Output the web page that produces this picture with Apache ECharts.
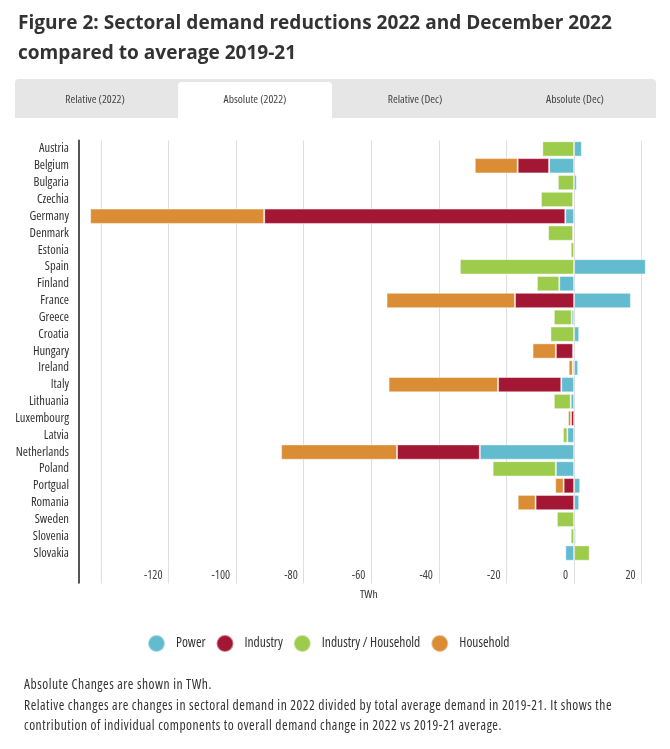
<!DOCTYPE html>
<html>
<head>
<meta charset="utf-8">
<script src="https://cdn.jsdelivr.net/npm/echarts@6/dist/echarts.min.js"></script>
<style>
  html, body { margin: 0; padding: 0; background: #fff; }
  body { width: 670px; height: 749px; position: relative; overflow: hidden; }
  #title { position: absolute; left: 18px; top: 7px; width: 650px; font-family: "Open Sans", sans-serif; font-weight: 700; font-size: 18px; line-height: 30px; color: #333; white-space: nowrap; }
  #tabs { position: absolute; left: 15px; top: 79px; width: 641px; height: 39px; background: #e6e6e6; border-radius: 4px 4px 0 0; }
  .tab { position: absolute; top: 0; height: 39px; width: 160px; text-align: center; line-height: 39px; font-family: "Open Sans", sans-serif; font-stretch: condensed; font-size: 11.5px; color: #444; }
  .tab.active { background: #fff; top: 3px; height: 36px; line-height: 34px; border-radius: 4px 4px 0 0; width: 154px; }
  #footer { position: absolute; left: 24px; top: 674px; font-family: "Open Sans", sans-serif; font-stretch: condensed; font-size: 13.5px; letter-spacing: 0.5px; line-height: 20.5px; color: #333; white-space: nowrap; }
  #chart { position: absolute; left: 0; top: 0; width: 670px; height: 749px; }
</style>
</head>
<body>
<div id="chart"></div>
<div id="title"><span id="t1">Figure 2: Sectoral demand reductions 2022 and December 2022</span><br>compared to average 2019-21</div>
<div id="tabs">
  <div class="tab" style="left:0px;">Relative (2022)</div>
  <div class="tab active" style="left:163px;">Absolute (2022)</div>
  <div class="tab" style="left:320px;">Relative (Dec)</div>
  <div class="tab" style="left:480px;">Absolute (Dec)</div>
</div>
<div id="footer">Absolute Changes are shown in TWh.<br><span id="f2">Relative changes are changes in sectoral demand in 2022 divided by total average demand in 2019-21. It shows the</span><br>contribution of individual components to overall demand change in 2022 vs 2019-21 average.</div>
<script>
// ---- data (TWh) ----
var countries = ["Austria","Belgium","Bulgaria","Czechia","Germany","Denmark","Estonia","Spain","Finland","France","Greece","Croatia","Hungary","Ireland","Italy","Lithuania","Luxembourg","Latvia","Netherlands","Poland","Portgual","Romania","Sweden","Slovenia","Slovakia"];
var power = [2.3, -7.4, 0.8, -0.3, -2.6, -0.3, null, 21.2, -4.4, 16.8, -0.7, 1.5, -0.3, 1.2, -3.8, -1.0, null, -2.0, -27.9, -5.4, 1.8, 1.5, null, 0.5, -2.6];
var industry = [null, -9.3, null, null, -89.1, null, null, null, null, -17.5, null, null, -5.1, -0.4, -18.7, null, -0.9, null, -24.5, null, -3.1, -11.4, null, null, null];
var industryHousehold = [-9.4, null, -4.8, -9.5, null, -7.4, -1.0, -33.8, -6.6, null, -5.3, -7.0, null, null, null, -5.0, null, -1.3, null, -18.7, null, null, -5.1, -1.0, 4.6];
var household = [null, -12.7, null, null, -51.5, null, null, null, null, -38.0, null, null, -6.9, -1.2, -32.4, null, -0.9, null, -34.3, null, -2.5, -5.3, null, null, null];
var tickValues = [-140, -120, -100, -80, -60, -40, -20, 0, 20];
var labelValues = [-120, -100, -80, -60, -40, -20, 0, 20];
var seriesNames = ["Power", "Industry", "Industry / Household", "Household"];
var seriesColors = ["#62bbce", "#a31735", "#9dcb4b", "#da8d35"];

// fit title / footer widths to the reference (title: font size; footer: letter spacing)
function fitProp(el, span, target, prop, lo, hi, unit) {
  for (var k = 0; k < 16; k++) {
    var mid = (lo + hi) / 2;
    el.style[prop] = mid + unit;
    if (span.getBoundingClientRect().width > target) hi = mid; else lo = mid;
  }
  el.style[prop] = lo + unit;
}
function fitAll() {
  fitProp(document.getElementById('title'), document.getElementById('t1'), 594, 'fontSize', 14, 24, 'px');
  fitProp(document.getElementById('footer'), document.getElementById('f2'), 588, 'letterSpacing', -0.5, 1.5, 'px');
}
fitAll();
if (document.fonts && document.fonts.load) {
  Promise.all([document.fonts.load('700 20px "Open Sans"'), document.fonts.load('condensed 13px "Open Sans"')]).then(fitAll);
}

var FONT = '"Open Sans", sans-serif';
var COND = 'condensed';
var chart = echarts.init(document.getElementById('chart'), null, {renderer: 'canvas'});
var values = [power, industry, industryHousehold, household];
var series = values.map(function (arr, i) {
  return {
    name: seriesNames[i],
    type: 'bar',
    stack: 'total',
    data: arr,
    barCategoryGap: '9%',
    itemStyle: { color: seriesColors[i], borderColor: 'rgba(255,255,255,0.45)', borderWidth: 1 },
    emphasis: { disabled: true },
    animation: false
  };
});
var GRID = { left: 79, right: 11.4, top: 140.5, height: 421 };
chart.setOption({
  animation: false,
  grid: GRID,
  legend: {
    left: 142, top: 629,
    icon: 'circle', itemWidth: 17, itemHeight: 17, itemGap: 10,
    textStyle: { fontFamily: FONT, fontStyle: COND, fontSize: 13.5, color: '#333', padding: [0, 0, 0, 6] },
    data: seriesNames,
    selectedMode: false
  },
  xAxis: {
    type: 'value', min: -146.5, max: 25,
    name: 'TWh', nameLocation: 'middle', nameGap: 27,
    nameTextStyle: { fontFamily: FONT, fontStyle: COND, fontSize: 11.5, color: '#333' },
    axisLine: { show: false },
    axisTick: { show: true, customValues: tickValues, length: 22, lineStyle: { color: '#dedede', width: 1 } },
    axisLabel: { customValues: labelValues, fontFamily: FONT, fontStyle: COND, fontSize: 12, color: '#444', align: 'right', padding: [0, 6, 0, 0], margin: 8 },
    splitLine: { show: true, lineStyle: { color: '#dedede', width: 1 } }
  },
  yAxis: {
    type: 'category', inverse: true, data: countries,
    axisLine: { show: true, onZero: false, lineStyle: { color: '#555', width: 2 } },
    axisTick: { show: false },
    axisLabel: { interval: 0, fontFamily: FONT, fontStyle: COND, fontSize: 12.5, color: '#333', margin: 10 }
  },
  series: series
});
// extend the y axis line down alongside the tick marks
var gTop = GRID.top + GRID.height;
chart.setOption({
  graphic: [{ type: 'line', shape: { x1: GRID.left, y1: gTop, x2: GRID.left, y2: gTop + 22 }, style: { stroke: '#555', lineWidth: 2 }, silent: true }]
});
</script>
</body>
</html>
